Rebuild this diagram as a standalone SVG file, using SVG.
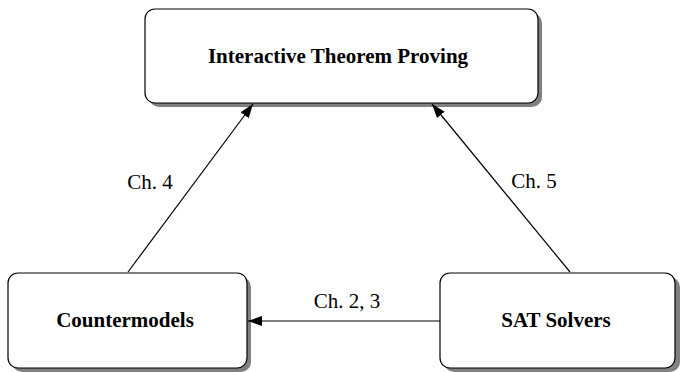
<svg xmlns="http://www.w3.org/2000/svg" width="680" height="372" viewBox="0 0 680 372">
<style>
.sh{fill:#808080;stroke:none}
.bx{fill:#fff;stroke:#000;stroke-width:1.2}
.t{font-family:"Liberation Serif",serif;font-weight:bold;font-size:21px;text-anchor:middle}
.l{font-family:"Liberation Serif",serif;font-size:21px;text-anchor:middle}
.c{stroke:#000;stroke-width:1.2;fill:none;marker-end:url(#ah)}
</style>
<defs>
<marker id="ah" markerWidth="14" markerHeight="10" refX="14" refY="5" orient="auto" markerUnits="userSpaceOnUse">
<path d="M0,0 L14,5 L0,10 Z" fill="#000"/>
</marker>
</defs>
<rect width="680" height="372" fill="#fff"/>
<g id="itp">
<rect class="sh" x="149" y="13" width="393" height="94" rx="10"/>
<rect class="bx" x="145" y="9" width="393" height="94" rx="10"/>
<text class="t" x="338" y="63">Interactive Theorem Proving</text>
</g>
<g id="counter">
<rect class="sh" x="12" y="277" width="239" height="95" rx="10"/>
<rect class="bx" x="8" y="273" width="239" height="95" rx="10"/>
<text class="t" x="125" y="327">Countermodels</text>
</g>
<g id="sat">
<rect class="sh" x="444" y="277" width="236" height="95" rx="10"/>
<rect class="bx" x="440" y="273" width="235" height="95" rx="10"/>
<text class="t" x="556" y="327">SAT Solvers</text>
</g>
<g id="connectors">
<line class="c" x1="128" y1="272" x2="253" y2="104"/>
<line class="c" x1="570" y1="272" x2="432" y2="104"/>
<line class="c" x1="440" y1="321" x2="248" y2="321"/>
<text class="l" x="150" y="189">Ch. 4</text>
<text class="l" x="534" y="188">Ch. 5</text>
<text class="l" x="347" y="308">Ch. 2, 3</text>
</g>
</svg>
